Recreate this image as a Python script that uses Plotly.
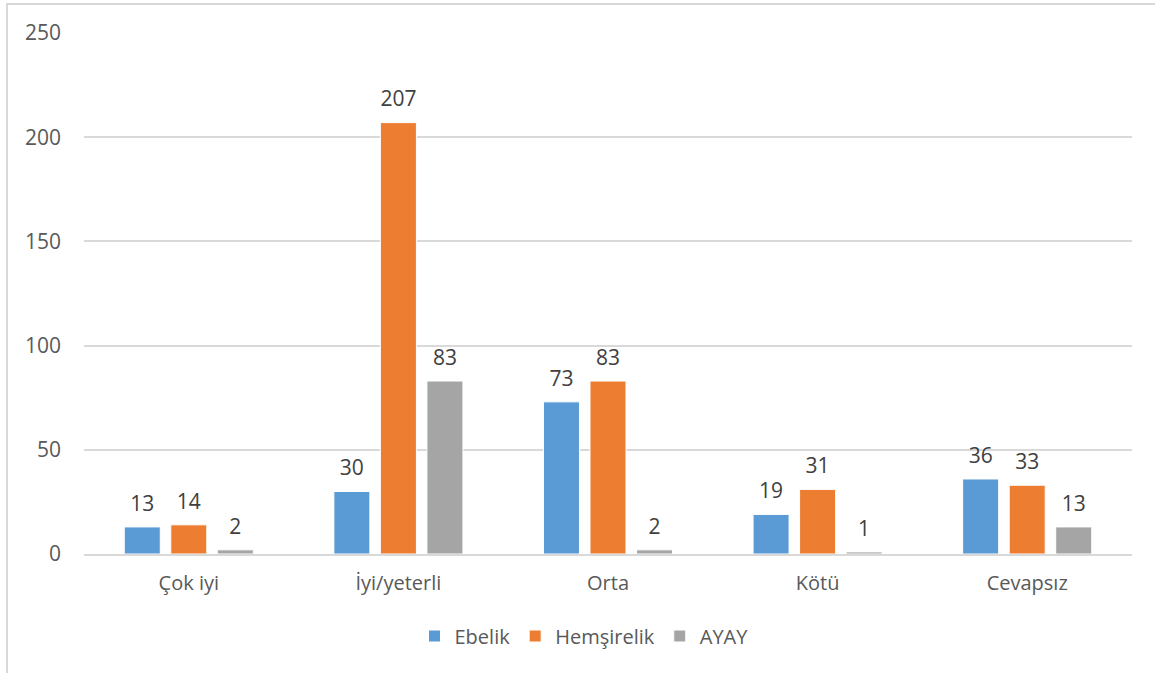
import plotly.graph_objects as go

categories = ["Çok iyi", "İyi/yeterli", "Orta", "Kötü", "Cevapsız"]
ebelik = [13, 30, 73, 19, 36]
hemsirelik = [14, 207, 83, 31, 33]
ayay = [2, 83, 2, 1, 13]

series = [
    ("Ebelik", ebelik, "#5B9BD5"),
    ("Hemşirelik", hemsirelik, "#ED7D31"),
    ("AYAY", ayay, "#A5A5A5"),
]

FONT = "Open Sans"
W, H = 1155, 673
L, R, T, B = 84, 23, 33, 119
pw, ph = W - L - R, H - T - B

fig = go.Figure()

for i, (name, vals, color) in enumerate(series):
    fig.add_trace(
        go.Bar(
            x=categories,
            y=vals,
            name=name,
            offsetgroup=str(i),
            marker=dict(color=color, line=dict(color="white", width=1)),
        )
    )

# value labels: invisible markers push the text a bit above each bar
for i, (name, vals, color) in enumerate(series):
    fig.add_trace(
        go.Scatter(
            x=categories,
            y=vals,
            mode="markers+text",
            offsetgroup=str(i),
            text=[str(v) for v in vals],
            textposition="top center",
            textfont=dict(family=FONT, size=21, color="#404040"),
            marker=dict(size=16, opacity=0),
            showlegend=False,
            hoverinfo="skip",
            cliponaxis=False,
        )
    )

# outer chart border (cropped on the right and bottom in the original)
fig.add_shape(
    type="rect",
    xref="paper", yref="paper",
    x0=(7 - L) / pw, x1=(W + 10 - L) / pw,
    y0=-(B + 10) / ph, y1=(ph + T - 4) / ph,
    line=dict(color="#D9D9D9", width=2),
    layer="below",
)

fig.update_layout(
    width=W,
    height=H,
    margin=dict(l=L, r=R, t=T, b=B),
    paper_bgcolor="white",
    plot_bgcolor="white",
    barmode="group",
    scattermode="group",
    bargap=0.334,
    bargroupgap=0.226,
    font=dict(family=FONT, size=20, color="#595959"),
    xaxis=dict(
        showline=True,
        linecolor="#D9D9D9",
        linewidth=2,
        ticks="",
        ticklabelstandoff=10,
        tickfont=dict(size=20, color="#595959"),
    ),
    yaxis=dict(
        range=[0, 250],
        dtick=50,
        showgrid=True,
        gridcolor="#D9D9D9",
        gridwidth=1.5,
        zeroline=False,
        ticks="",
        ticklabelstandoff=22,
        tickfont=dict(size=21, color="#595959"),
    ),
    legend=dict(
        orientation="h",
        x=0.5 - 24 / pw,
        xanchor="center",
        y=-82 / ph,
        yanchor="middle",
        font=dict(size=20, color="#595959"),
        itemwidth=30,
        traceorder="normal",
    ),
    showlegend=True,
)

# drop the default body margin so the figure fills the window exactly
fig.write_html(
    "out.html",
    config={"displayModeBar": False},
    post_script="document.body.style.margin='0px';",
)
